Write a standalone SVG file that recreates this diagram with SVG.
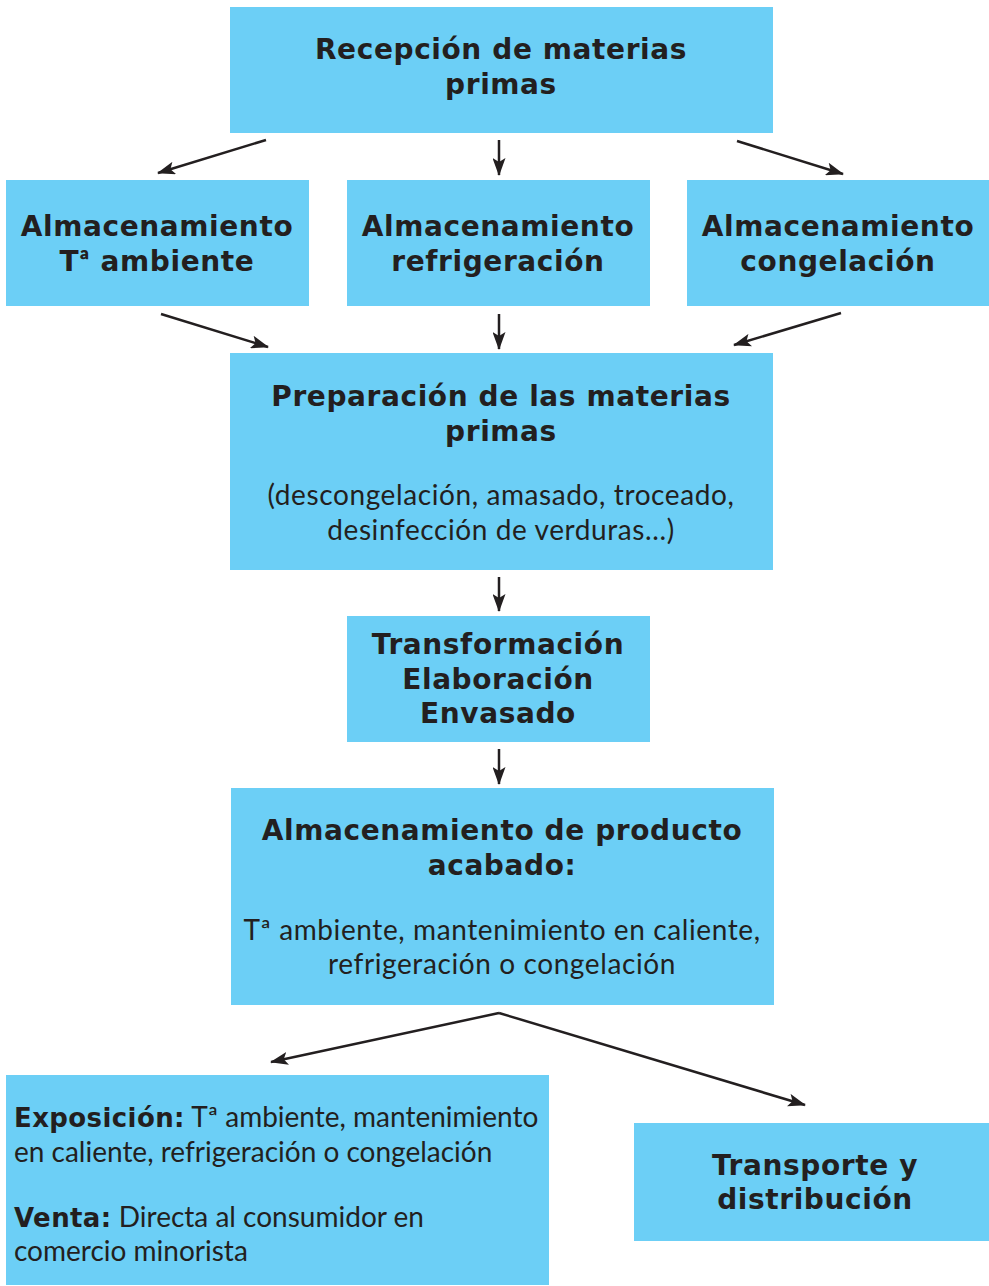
<svg xmlns="http://www.w3.org/2000/svg" width="989" height="1286" viewBox="0 0 989 1286">
<style>
.box{fill:#6ccff6}
.b{font-family:"DejaVu Sans","Liberation Sans",sans-serif;font-weight:700;font-size:28px;letter-spacing:0.6px;fill:#231f20;text-anchor:middle}
.r{font-family:Lato,"Liberation Sans",sans-serif;font-weight:400;font-size:28px;letter-spacing:0.6px;fill:#231f20;text-anchor:middle}
.e{letter-spacing:0}
.bi{font-family:"DejaVu Sans","Liberation Sans",sans-serif;font-weight:700;font-size:26px;letter-spacing:0.4px}
.o{font-family:Lato,"Liberation Sans",sans-serif;font-weight:900}
.l{text-anchor:start}
.c{stroke:#231f20;stroke-width:2.5;fill:none;marker-end:url(#ah)}
</style>
<defs>
<marker id="ah" viewBox="0 0 18 13" refX="17" refY="6.5" markerWidth="18" markerHeight="13" markerUnits="userSpaceOnUse" orient="auto">
<path d="M0,0 L18,6.5 L0,13 L4,6.5 z" fill="#231f20"/>
</marker>
</defs>
<rect width="989" height="1286" fill="#fff"/>
<g id="recepcion"><rect class="box" x="230" y="7" width="543" height="126"/>
<text class="b" x="501" y="59">Recepción de materias</text><text class="b" x="501" y="94">primas</text></g>
<g id="alm-amb"><rect class="box" x="6" y="180" width="303" height="126"/>
<text class="b" x="157" y="236">Almacenamiento</text><text class="b" x="157" y="271">T<tspan class="o">ª</tspan> ambiente</text></g>
<g id="alm-ref"><rect class="box" x="347" y="180" width="303" height="126"/>
<text class="b" x="498" y="236">Almacenamiento</text><text class="b" x="498" y="271">refrigeración</text></g>
<g id="alm-cong"><rect class="box" x="687" y="180" width="302" height="126"/>
<text class="b" x="838" y="236">Almacenamiento</text><text class="b" x="838" y="271">congelación</text></g>
<g id="preparacion"><rect class="box" x="230" y="353" width="543" height="217"/>
<text class="b" x="501" y="406">Preparación de las materias</text><text class="b" x="501" y="441">primas</text>
<text class="r" x="501" y="505">(descongelación, amasado, troceado,</text><text class="r" x="501" y="540">desinfección de verduras...)</text></g>
<g id="transformacion"><rect class="box" x="347" y="616" width="303" height="126"/>
<text class="b" x="498" y="654">Transformación</text><text class="b" x="498" y="689">Elaboración</text><text class="b" x="498" y="723">Envasado</text></g>
<g id="alm-producto"><rect class="box" x="231" y="788" width="543" height="217"/>
<text class="b" x="502" y="840">Almacenamiento de producto</text><text class="b" x="502" y="875">acabado:</text>
<text class="r" x="502" y="940">Tª ambiente, mantenimiento en caliente,</text><text class="r" x="502" y="974">refrigeración o congelación</text></g>
<g id="exposicion"><rect class="box" x="6" y="1075" width="543" height="210"/>
<text class="r l e" x="14" y="1127"><tspan class="bi">Exposición:</tspan> Tª ambiente, mantenimiento</text>
<text class="r l e" x="14" y="1162">en caliente, refrigeración o congelación</text>
<text class="r l e" x="14" y="1227"><tspan class="bi">Venta:</tspan> Directa al consumidor en</text>
<text class="r l e" x="14" y="1261">comercio minorista</text></g>
<g id="transporte"><rect class="box" x="634" y="1123" width="355" height="118"/>
<text class="b" x="815" y="1175">Transporte y</text><text class="b" x="815" y="1209">distribución</text></g>
<g id="connectors">
<line class="c" x1="266" y1="140" x2="158" y2="173"/>
<line class="c" x1="499" y1="140" x2="499" y2="175"/>
<line class="c" x1="737" y1="141" x2="843" y2="174"/>
<line class="c" x1="161" y1="314" x2="268" y2="347"/>
<line class="c" x1="499" y1="314" x2="499" y2="349"/>
<line class="c" x1="841" y1="313" x2="734" y2="345"/>
<line class="c" x1="499" y1="577" x2="499" y2="611"/>
<line class="c" x1="499" y1="749" x2="499" y2="784"/>
<line class="c" x1="499" y1="1013" x2="271" y2="1062"/>
<line class="c" x1="499" y1="1013" x2="805" y2="1105"/>
</g>
</svg>
